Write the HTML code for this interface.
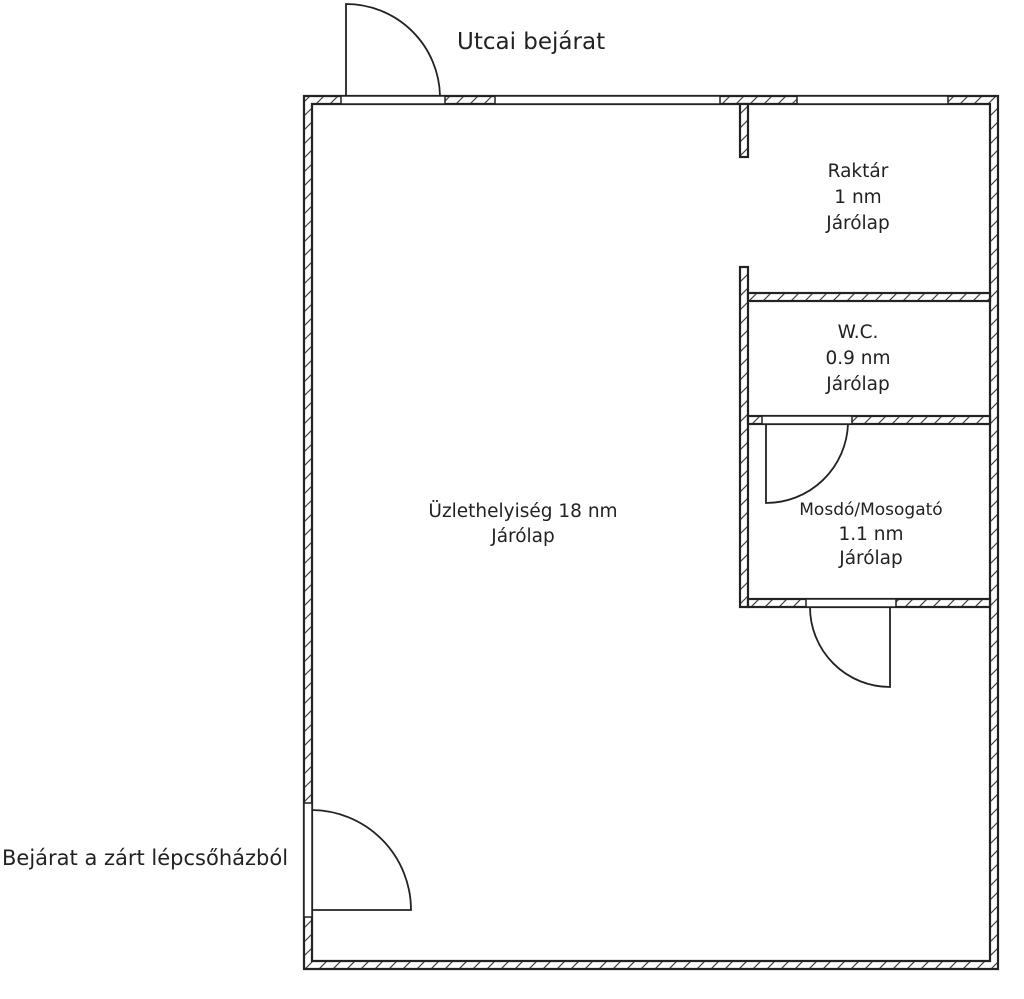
<!DOCTYPE html>
<html><head><meta charset="utf-8"><style>
html,body{margin:0;padding:0;background:#fff;width:1024px;height:999px;overflow:hidden}
svg text{font-family:"DejaVu Sans","Liberation Sans",sans-serif;fill:#222}
</style></head><body>
<svg width="1024" height="999" viewBox="0 0 1024 999" xmlns="http://www.w3.org/2000/svg">
<defs>
<pattern id="h" patternUnits="userSpaceOnUse" width="14" height="14">
<rect width="14" height="14" fill="#fff"/>
<path d="M0 14L14 0M-3 3L3 -3M11 17L17 11" stroke="#444" stroke-width="1.2"/>
</pattern>
</defs>
<g stroke="#222" stroke-width="2.2" fill="url(#h)">
<path fill-rule="evenodd" d="M304 96H998V969H304Z M312 104V961H990V104Z"/>
<rect x="740" y="104" width="8" height="53"/>
<rect x="740" y="267" width="8" height="340"/>
<rect x="748" y="293" width="242" height="8"/>
<rect x="748" y="416" width="242" height="8"/>
<rect x="748" y="599" width="242" height="8"/>
</g>
<g stroke="#222" stroke-width="1.5" fill="#fff">
<rect x="341" y="96" width="104" height="8"/>
<rect x="495" y="96" width="225" height="8"/>
<rect x="797" y="96" width="151" height="8"/>
<rect x="762" y="416" width="90" height="8"/>
<rect x="806" y="599" width="90" height="8"/>
<rect x="304" y="803" width="8" height="114"/>
</g>
<g stroke="#222" stroke-width="1.8" fill="none">
<path d="M346 96V4A94 94 0 0 1 440 96"/>
<path d="M766 424V503A82 82 0 0 0 848 424"/>
<path d="M890 607V687A80 80 0 0 1 810 607"/>
<path d="M312 810A100 100 0 0 1 411 910H312"/>
</g>
<text x="457" y="49" font-size="23">Utcai bejárat</text>
<text x="2" y="865" font-size="21">Bejárat a zárt lépcsőházból</text>
<g font-size="18.5" text-anchor="middle">
<text x="858" y="177">Raktár</text>
<text x="858" y="203">1 nm</text>
<text x="858" y="229">Járólap</text>
<text x="858" y="338">W.C.</text>
<text x="858" y="364">0.9 nm</text>
<text x="858" y="390">Járólap</text>
<text x="871" y="515" font-size="17">Mosdó/Mosogató</text>
<text x="871" y="540">1.1 nm</text>
<text x="871" y="564">Járólap</text>
<text x="523" y="517">Üzlethelyiség 18 nm</text>
<text x="523" y="542">Járólap</text>
</g>
</svg>
</body></html>
